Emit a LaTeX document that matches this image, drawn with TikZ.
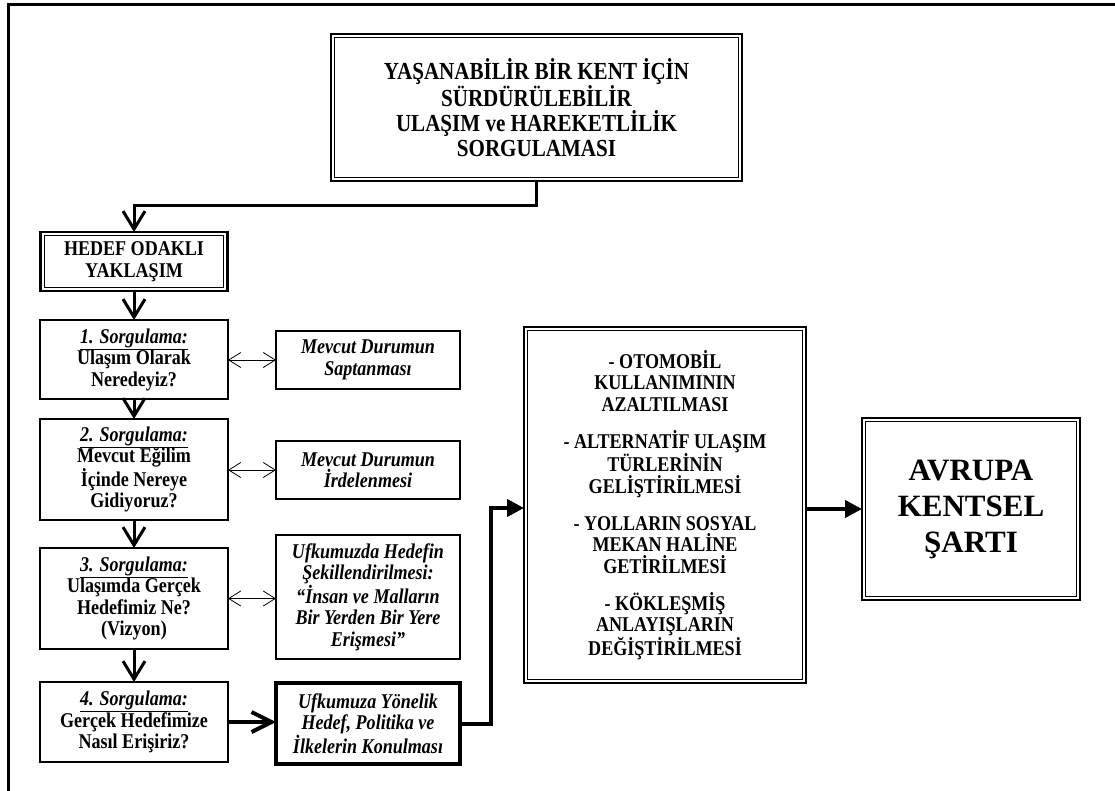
\documentclass[tikz,border=0pt]{standalone}
\usepackage{fontspec}
\setmainfont{Liberation Serif}[FakeStretch=0.86]
\newfontfamily\plainserif{Liberation Serif}
\usetikzlibrary{arrows.meta,calc}

\newcommand\bxfont{\fontsize{21}{21.5}\selectfont\bfseries}
\newcommand\qhead[1]{\underline{\textit{#1}}}

\begin{document}
\begin{tikzpicture}[x=1pt,y=-1pt,
  every node/.style={inner sep=0pt, outer sep=0pt, align=center},
  qbox/.style={draw, line width=2.6pt, font=\bxfont, minimum width=188pt},
  sbox/.style={draw, line width=2.4pt, font=\bxfont\itshape, minimum width=184pt},
  dblbox/.style={draw, line width=#1},
  dblbox/.default=2.4pt,
  flow/.style={line width=3pt, -{Straight Barb[length=18pt,width=22pt]}},
  link/.style={line width=0.8pt, {Straight Barb[length=12pt,width=15pt]}-{Straight Barb[length=12pt,width=15pt]}},
  push/.style={line width=4pt, -{Straight Barb[length=20pt,width=20pt]}},
  solidarrow/.style={line width=4pt, -{Triangle[length=17pt,width=17pt]}}
]
\useasboundingbox (0,0) rectangle (1115,791);

% page frame (top and left edges)
\draw[line width=3pt] (1115,5) -- (8,5) -- (8,791);

% title box
\node[dblbox=2.6pt, minimum width=411pt, minimum height=147pt,
      font=\fontsize{24.5}{24.8}\selectfont\bfseries] (top) at (536.5,107.5)
  {YAŞANABİLİR BİR KENT İÇİN\\SÜRDÜRÜLEBİLİR\\ULAŞIM ve HAREKETLİLİK\\SORGULAMASI};

% approach box
\node[dblbox=2.4pt, minimum width=187pt, minimum height=59pt, font=\bxfont] (hedef) at (134,261.5)
  {HEDEF ODAKLI\\YAKLAŞIM};

% question boxes
\node[qbox, minimum height=79pt] (q1) at (134,359.5)
  {\qhead{1. Sorgulama:}\\Ulaşım Olarak\\Neredeyiz?};
\node[qbox, minimum height=101pt] (q2) at (134,469.5)
  {\qhead{2. Sorgulama:}\\Mevcut Eğilim\\İçinde Nereye\\Gidiyoruz?};
\node[qbox, minimum height=101pt] (q3) at (134,598.5)
  {\qhead{3. Sorgulama:}\\Ulaşımda Gerçek\\Hedefimiz Ne?\\(Vizyon)};
\node[qbox, minimum height=80pt] (q4) at (134,722)
  {\qhead{4. Sorgulama:}\\Gerçek Hedefimize\\Nasıl Erişiriz?};

% answer boxes
\node[sbox, minimum height=58pt] (s1) at (368,360)
  {Mevcut Durumun\\Saptanması};
\node[sbox, minimum height=58pt] (s2) at (368,470)
  {Mevcut Durumun\\İrdelenmesi};
\node[sbox, minimum height=124pt] (s3) at (368,597)
  {Ufkumuzda Hedefin\\Şekillendirilmesi:\\“İnsan ve Malların\\Bir Yerden Bir Yere\\Erişmesi”};
\node[sbox, line width=4pt, minimum height=81pt] (s4) at (368,723.5)
  {Ufkumuza Yönelik\\Hedef, Politika ve\\İlkelerin Konulması};

% measures box
\node[dblbox=1.6pt, minimum width=282pt, minimum height=356pt, font=\bxfont] (mid) at (665,505)
  {- OTOMOBİL\\KULLANIMININ\\AZALTILMASI\\[15.5pt]%
   - ALTERNATİF ULAŞIM\\TÜRLERİNİN\\GELİŞTİRİLMESİ\\[15.5pt]%
   - YOLLARIN SOSYAL\\MEKAN HALİNE\\GETİRİLMESİ\\[15.5pt]%
   - KÖKLEŞMİŞ\\ANLAYIŞLARIN\\DEĞİŞTİRİLMESİ};

% charter box
\node[dblbox=1.6pt, minimum width=218pt, minimum height=182pt,
      font=\plainserif\fontsize{31}{36}\selectfont\bfseries] (eu) at (971,509)
  {AVRUPA\\KENTSEL\\ŞARTI};

% inner rules of the double-framed boxes
\foreach \n in {top,hedef,mid,eu}
  \draw[line width=0.9pt] ([shift={(3.6,3.6)}]\n.north west) rectangle ([shift={(-3.6,-3.6)}]\n.south east);

% connectors
\draw[flow] (top.south) -- ++(0,25) -| (hedef.north);
\draw[flow] (hedef.south) -- (q1.north);
\draw[flow] (q1.south) -- (q2.north);
\draw[flow] (q2.south) -- (q3.north);
\draw[flow] (q3.south) -- (q4.north);

\draw[link] (s1.west -| q1.east) -- (s1.west);
\draw[link] (s2.west -| q2.east) -- (s2.west);
\draw[link] (q3.east) -- (q3.east -| s3.west);

\draw[push] (q4.east) -- (q4.east -| s4.west);
\draw[solidarrow] (s4.east) -- ++(31,0) |- ($(mid.west)+(0,3)$);
\draw[solidarrow] (eu.west -| mid.east) -- (eu.west);
\end{tikzpicture}
\end{document}
